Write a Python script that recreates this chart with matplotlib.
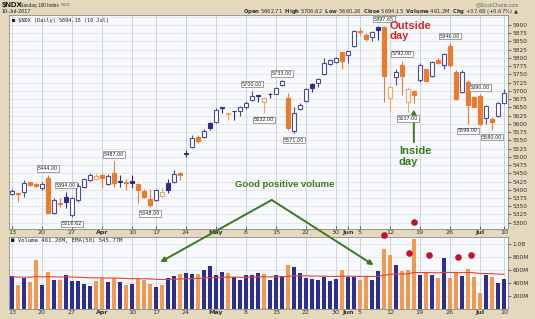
import matplotlib
matplotlib.use("Agg")
import matplotlib.pyplot as plt
import numpy as np

# ---------------- data ----------------
tick_idx = [0, 5, 10, 15, 20, 24, 29, 34, 39, 44, 49, 54, 56, 58, 63, 68, 73, 78, 82]
tick_labels = ["13", "20", "27", "Apr", "10", "17", "24", "May", "8", "15", "22",
               "30", "Jun", "5", "12", "19", "26", "Jul", "10"]

opens = [5388, 5389, 5394, 5423, 5416, 5406, 5437, 5329, 5360, 5379,
         5322, 5369, 5409, 5431, 5432, 5445, 5417, 5450, 5427, 5424,
         5426, 5416, 5397, 5372, 5369, 5382, 5419, 5423, 5452, 5512,
         5529, 5561, 5559, 5603, 5606, 5650, 5630, 5640, 5640, 5650,
         5672, 5686, 5666, 5692, 5692, 5718, 5680, 5577, 5644, 5669,
         5720, 5723, 5751, 5782, 5788, 5817, 5809, 5836, 5882, 5869,
         5864, 5895, 5893, 5680, 5741, 5780, 5667, 5701, 5733, 5766,
         5746, 5794, 5779, 5836, 5758, 5698, 5728, 5682, 5684, 5617,
         5614, 5624, 5662.71]
highs = [5401, 5391, 5429, 5425, 5419, 5424, 5444, 5374, 5374, 5394,
         5378, 5419, 5437, 5450, 5451, 5452, 5447, 5487, 5445, 5434,
         5445, 5419, 5402, 5401, 5402, 5406, 5434, 5460, 5455, 5521,
         5566, 5565, 5583, 5606, 5647, 5652, 5636, 5640, 5654, 5668,
         5700, 5688, 5682, 5694, 5713, 5733, 5694, 5652, 5662, 5710,
         5723, 5738, 5799, 5797, 5803, 5819, 5821, 5885, 5890, 5875,
         5883, 5897, 5897.65, 5716, 5768, 5792, 5713, 5703, 5784, 5768,
         5791, 5799, 5814, 5846, 5763, 5763, 5733, 5684, 5690, 5657,
         5622, 5667, 5706.62]
lows = [5385, 5362, 5377, 5410, 5408, 5399, 5328, 5325, 5349, 5345,
        5316.62, 5364, 5406, 5427, 5429, 5404, 5414, 5409, 5409, 5399,
        5406, 5361, 5376, 5348, 5366, 5379, 5389, 5419, 5429, 5500,
        5526, 5542, 5556, 5581, 5604, 5632, 5612, 5612, 5624, 5644,
        5668, 5667, 5632, 5677, 5690, 5715, 5581, 5571, 5642, 5667,
        5698, 5713, 5748, 5779, 5785, 5768, 5784, 5832, 5869, 5852,
        5852, 5855, 5667, 5637, 5718, 5687, 5637, 5662, 5728, 5728,
        5743, 5781, 5765, 5773, 5672, 5695, 5599, 5650, 5598, 5601,
        5580, 5622, 5660.26]
closes = [5397, 5386, 5421, 5413, 5411, 5418, 5330, 5369, 5356, 5363,
          5374, 5411, 5434, 5444, 5441, 5435, 5443, 5419, 5423, 5420,
          5422, 5399, 5379, 5354, 5399, 5393, 5399, 5447, 5445, 5510,
          5556, 5547, 5579, 5586, 5642, 5648, 5633, 5638, 5650, 5664,
          5684, 5685, 5679, 5690, 5710, 5730, 5586, 5632, 5657, 5706,
          5708, 5735, 5786, 5794, 5800, 5792, 5821, 5882, 5879, 5857,
          5878, 5885, 5745, 5713, 5756, 5746, 5707, 5688, 5779, 5730,
          5789, 5784, 5811, 5780, 5675, 5758, 5657, 5652, 5601, 5654,
          5605, 5662, 5694.15]
prev_close_first = 5385
volumes = [509, 375, 483, 416, 752, 375, 576, 442, 442, 530,
           427, 432, 391, 360, 437, 483, 411, 473, 411, 375,
           391, 468, 442, 385, 339, 375, 483, 504, 545, 556,
           535, 545, 607, 654, 519, 566, 556, 494, 442, 519,
           519, 561, 545, 452, 530, 504, 684, 648, 561, 478,
           468, 452, 494, 427, 468, 607, 494, 494, 442, 494,
           452, 586, 917, 829, 674, 586, 607, 1071, 519, 556,
           530, 478, 777, 483, 556, 504, 612, 494, 246, 519,
           494, 406, 461.2]
ema_seed = 495

high_label_idx = [6, 9, 17, 40, 45, 62, 65, 73, 78]
low_label_idx = [10, 23, 42, 47, 66, 76, 80]

price_ticks = list(range(5300, 5901, 25))
vol_ticks = [200, 400, 600, 800, 1000]
vol_tick_labels = ["200M", "400M", "600M", "800M", "1.0B"]

# annotation marker positions (day index, value)
dot_price = ([67.0], [5302])
dot_vol = ([62.0, 66.2, 69.5, 74.3, 76.5], [1138, 865, 829, 803, 829])

# ---------------- style ----------------
W, H = 535, 319
TAN = "#e4d9bd"
PANEL = "#f8f9fc"
NAVY = "#2e2e8e"
BLUE_EDGE = "#4b4ba3"
ORANGE = "#ee7a2c"
ORANGE_LIGHT = "#f5a462"
GRID = "#dde0ea"

fig = plt.figure(figsize=(W / 100, H / 100), dpi=100, facecolor=TAN)


def px_rect(l, t, r, b):
    return [l / W, 1 - b / H, (r - l) / W, (b - t) / H]


axp = fig.add_axes(px_rect(9, 15, 508, 228.5), facecolor=PANEL)
axv = fig.add_axes(px_rect(9, 236.5, 508, 309), facecolor=PANEL)

n = len(closes)
x = np.arange(n)
prev = [prev_close_first] + closes[:-1]
up = [c >= p for c, p in zip(closes, prev)]

# ---- price panel ----
axp.set_xlim(-0.5, 82.7)
axp.set_ylim(5282.4, 5930.4)
for lvl in np.arange(5300, 5926, 25):
    axp.axhline(lvl, color=GRID, lw=0.5, zorder=0)
for t in tick_idx:
    axp.axvline(t, color="#c9cdd9", lw=0.6, zorder=0)
    axv.axvline(t, color="#c9cdd9", lw=0.6, zorder=0)

bw = 0.66
for i in range(n):
    o, h, l, c = opens[i], highs[i], lows[i], closes[i]
    filled = c < o
    if up[i]:
        face = NAVY if filled else "white"
        edge = NAVY if filled else BLUE_EDGE
    else:
        face = ORANGE if filled else "white"
        edge = ORANGE if filled else ORANGE_LIGHT
    axp.vlines(i, l, h, color=edge, lw=0.8, zorder=2)
    bot = min(o, c)
    ht = max(abs(c - o), 1.2)
    axp.bar(i, ht, bottom=bot, width=bw, facecolor=face, edgecolor=edge,
            lw=0.8, zorder=3)

lab_kw = dict(fontsize=3.5, family="DejaVu Sans", ha="center", color="#222222",
              bbox=dict(boxstyle="square,pad=0.15", fc="white", ec="#7a7a7a", lw=0.5),
              zorder=6)
for i in high_label_idx:
    axp.annotate(f"{highs[i]:.2f}", xy=(i, highs[i]), xytext=(0, 3),
                 textcoords="offset points", va="bottom", annotation_clip=False,
                 **lab_kw)
for i in low_label_idx:
    axp.annotate(f"{lows[i]:.2f}", xy=(i, lows[i]), xytext=(0, -3),
                 textcoords="offset points", va="top", annotation_clip=False,
                 **lab_kw)

axp.yaxis.tick_right()
axp.set_yticks(price_ticks)
axp.set_yticklabels([str(v) for v in price_ticks])
axp.tick_params(axis="y", labelsize=4.2, length=2, pad=1.5, colors="#333333",
                width=0.5)
axp.set_xticks(tick_idx)
axp.set_xticklabels(tick_labels)
axp.tick_params(axis="x", labelsize=4.6, length=2, pad=1.0, colors="#333333",
                width=0.5, direction="in")

axp.text(0.006, 0.987, "\u25a0 $NDX (Daily) 5694.15 (10 Jul)", transform=axp.transAxes,
         fontsize=3.8, family="DejaVu Sans Mono", va="top", ha="left", color="#222222")

# ---- volume panel ----
axv.set_xlim(-0.5, 82.7)
axv.set_ylim(0, 1115)
for lvl in vol_ticks:
    axv.axhline(lvl, color=GRID, lw=0.5, zorder=0)
vcols = [NAVY if u else "#f39a50" for u in up]
axv.bar(x, volumes, width=0.72, color=vcols, zorder=2, lw=0)
alpha = 2 / 51
ema = []
e = ema_seed
for v in volumes:
    e = e + alpha * (v - e)
    ema.append(e)
axv.plot(x, ema, color="#e8413c", lw=0.8, zorder=3)
axv.yaxis.tick_right()
axv.set_yticks(vol_ticks)
axv.set_yticklabels(vol_tick_labels)
axv.tick_params(axis="y", labelsize=4.2, length=2, pad=1.5, colors="#333333", width=0.5)
axv.set_xticks(tick_idx)
axv.set_xticklabels(tick_labels)
axv.tick_params(axis="x", labelsize=4.6, length=2, pad=1.0, colors="#333333",
                width=0.5, direction="in")
axv.text(0.004, 0.975, "\u25a0 Volume 461.20M, EMA(50) 545.77M", transform=axv.transAxes,
         fontsize=4.1, family="DejaVu Sans Mono", va="top", ha="left", color="#222222")

for ax in (axp, axv):
    for lbl in ax.get_xticklabels():
        if lbl.get_text() in ("Apr", "May", "Jun", "Jul"):
            lbl.set_fontweight("bold")
    for s in ax.spines.values():
        s.set_color("#8a8a8a")
        s.set_linewidth(0.6)

# ---- header ----
fig.text(1.5 / W, 1 - 5 / H, "$NDX", fontsize=5.6, fontweight="bold", va="center",
         ha="left", color="#111111", family="Liberation Sans")
t_name = fig.text(19.5 / W, 1 - 5 / H, "Nasdaq 100 Index", fontsize=3.4, va="center",
                  ha="left", color="#222222", family="Liberation Sans")
renderer = fig.canvas.get_renderer()
name_right = t_name.get_window_extent(renderer).x1
fig.text((name_right + 2.5) / W, 1 - 5 / H, "INDX", fontsize=2.9, va="center", ha="left",
         color="#555555", family="Liberation Sans")
fig.text(1.5 / W, 1 - 11.5 / H, "10-Jul-2017", fontsize=4.0, va="center", ha="left",
         color="#222222", family="Liberation Sans")
fig.text(519 / W, 1 - 4.5 / H, "@StockCharts.com", fontsize=3.6, va="center", ha="right",
         color="#666666", family="Liberation Sans")
fig.text(519 / W, 1 - 11.5 / H,
         r"$\bf{Open}$ 5662.71  $\bf{High}$ 5706.62  $\bf{Low}$ 5660.26  $\bf{Close}$ 5694.15  "
         r"$\bf{Volume}$ 461.2M  $\bf{Chg}$ +37.68 (+0.67%) " + "\u25b2",
         fontsize=3.8, va="center", ha="right", color="#333333")

# ---- annotations ----
RED = "#d42a2a"
GREEN = "#3b7a1c"
axp.text(63.0, 5912, "Outside\nday", color=RED, fontsize=8, fontweight="bold",
         family="Liberation Sans", va="top", ha="left", linespacing=1.05, zorder=7)
axp.text(64.5, 5532, "Inside\nday", color=GREEN, fontsize=8, fontweight="bold",
         family="Liberation Sans", va="top", ha="left", linespacing=1.05, zorder=7)
axp.annotate("", xy=(67, 5652), xytext=(67, 5536),
             arrowprops=dict(arrowstyle="-|>", color=GREEN, lw=1.4, mutation_scale=6))
axp.text(45.5, 5417, "Good positive volume", color=GREEN, fontsize=6.8,
         fontweight="bold", family="Liberation Sans", va="center", ha="center", zorder=7)
for tx, tv in [(24.7, 721), (60.3, 675)]:
    axv.annotate("", xy=(tx, tv), xycoords=axv.transData,
                 xytext=(43.3, 5369), textcoords=axp.transData, annotation_clip=False,
                 arrowprops=dict(arrowstyle="-|>", color=GREEN, lw=1.4,
                                 mutation_scale=7, shrinkA=0, shrinkB=0), zorder=8)

axp.scatter(dot_price[0], dot_price[1], s=14, color="#c8102e", zorder=8, clip_on=False)
axv.scatter(dot_vol[0], dot_vol[1], s=14, color="#c8102e", zorder=8, clip_on=False)

fig.savefig("out.png", dpi=100, facecolor=TAN)
